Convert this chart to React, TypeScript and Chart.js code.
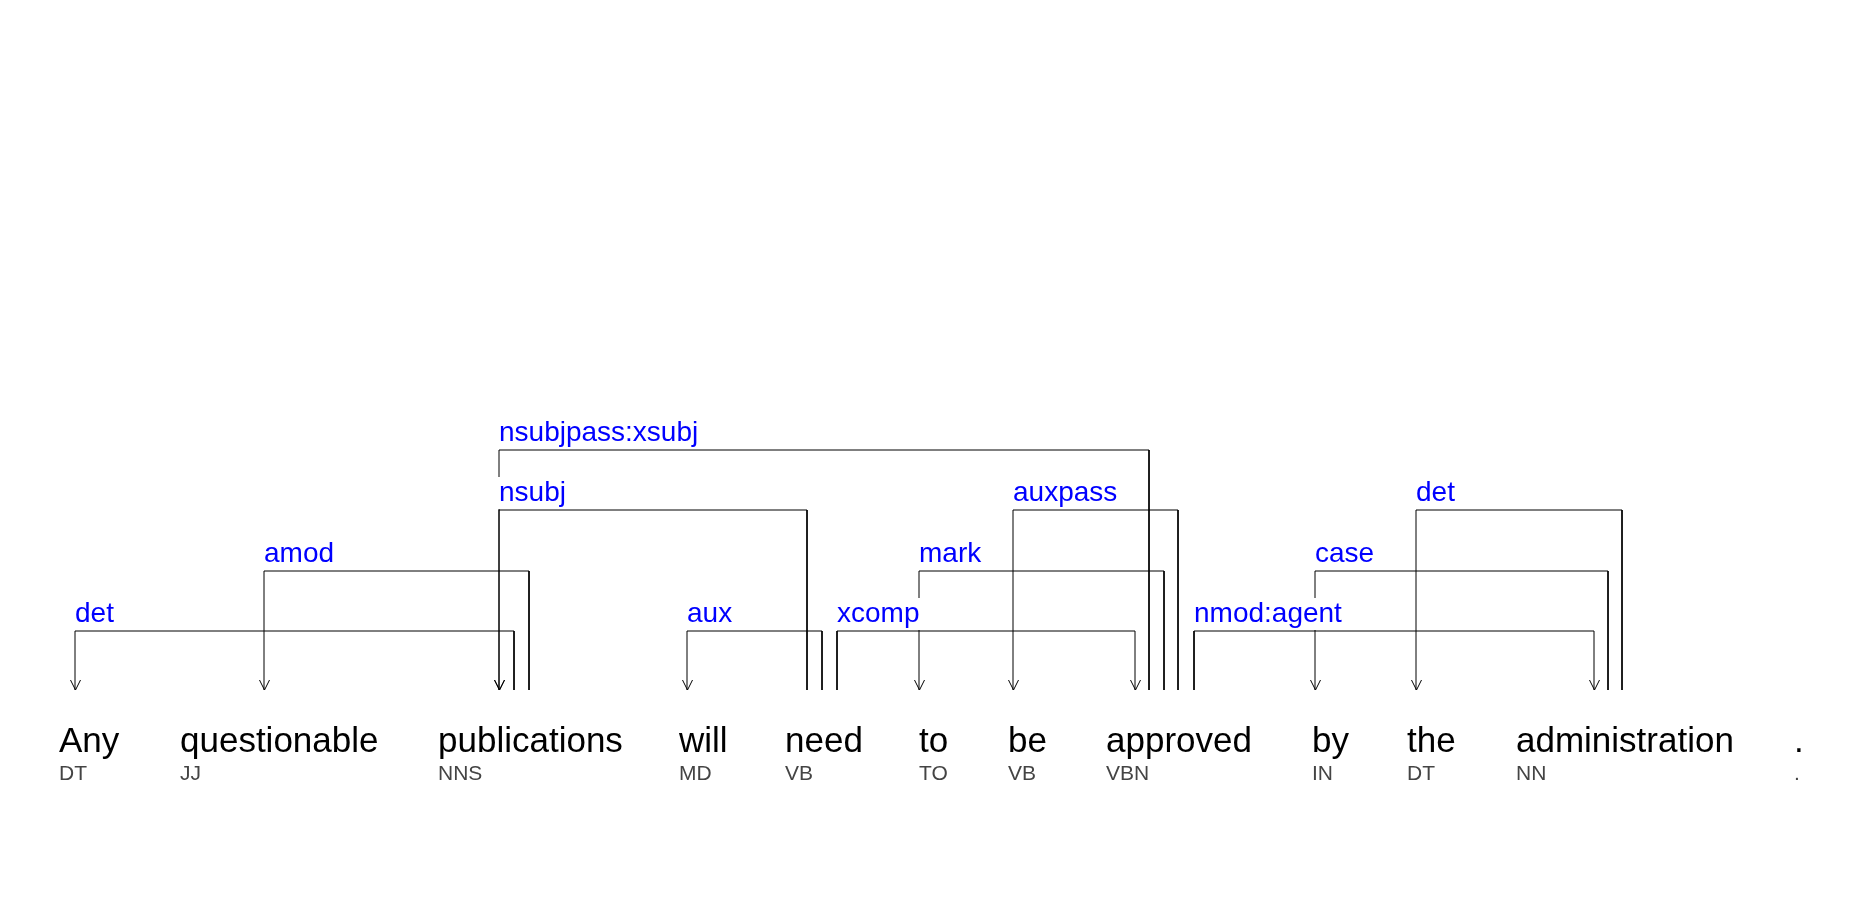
import React, { useEffect, useRef } from "react";
import { Chart, registerables } from "chart.js";
Chart.register(...registerables);

const words = ["Any", "questionable", "publications", "will", "need", "to", "be", "approved", "by", "the", "administration", "."];
const tags = ["DT", "JJ", "NNS", "MD", "VB", "TO", "VB", "VBN", "IN", "DT", "NN", "."];
const wordX = [59, 180, 438, 679, 785, 919, 1008, 1106, 1312, 1407, 1516, 1794];
// edges: label, dependent attach x, head attach x, level
const edgeLabels = ["det", "amod", "nsubj", "nsubjpass:xsubj", "aux", "xcomp", "mark", "auxpass", "nmod:agent", "case", "det"];
const edgeDepX = [75, 264, 499, 499, 687, 1135, 919, 1013, 1594, 1315, 1416];
const edgeHeadX = [514, 529, 807, 1149, 822, 837, 1164, 1178, 1194, 1608, 1622];
const edgeLevel = [1, 2, 3, 4, 1, 1, 2, 3, 1, 2, 3];
const levelY = [0, 631, 571, 510, 450];
const BOTTOM = 690;
const WORD_Y = 752;
const TAG_Y = 780;

export default function App() {
  const ref = useRef<HTMLCanvasElement>(null);
  useEffect(() => {
    document.body.style.margin = "0";
    const datasets = edgeLabels.map((l, i) => ({
      label: l,
      data: [
        { x: edgeDepX[i], y: BOTTOM },
        { x: edgeDepX[i], y: levelY[edgeLevel[i]] },
        { x: edgeHeadX[i], y: levelY[edgeLevel[i]] },
        { x: edgeHeadX[i], y: BOTTOM },
      ],
      showLine: true,
      borderColor: "#000",
      borderWidth: 1,
      pointRadius: 0,
      fill: false,
      tension: 0,
    }));
    const plugin = {
      id: "deps",
      afterDatasetsDraw(chart: any) {
        const ctx = chart.ctx;
        const xs = chart.scales.x, ys = chart.scales.y;
        ctx.save();
        // arrows
        ctx.strokeStyle = "#000";
        ctx.lineWidth = 1;
        edgeDepX.forEach((dx) => {
          const px = Math.round(xs.getPixelForValue(dx)) + 0.5;
          const py = ys.getPixelForValue(BOTTOM);
          ctx.beginPath();
          ctx.moveTo(px - 5, py - 10);
          ctx.lineTo(px, py);
          ctx.lineTo(px + 5, py - 10);
          ctx.stroke();
        });
        // labels
        ctx.font = "28px 'Liberation Sans', Arial, sans-serif";
        ctx.textBaseline = "alphabetic";
        ctx.textAlign = "left";
        edgeLabels.forEach((l, i) => {
          const left = Math.min(edgeDepX[i], edgeHeadX[i]);
          const px = xs.getPixelForValue(left);
          const py = ys.getPixelForValue(levelY[edgeLevel[i]]) - 9;
          const w = ctx.measureText(l).width;
          ctx.fillStyle = "#fff";
          ctx.fillRect(px - 1, py - 24, w + 2, 32);
          ctx.fillStyle = "#0000ff";
          ctx.fillText(l, px, py);
        });
        // words
        words.forEach((w, i) => {
          ctx.fillStyle = "#000";
          ctx.font = "35px 'Liberation Sans', Arial, sans-serif";
          ctx.fillText(w, xs.getPixelForValue(wordX[i]), ys.getPixelForValue(WORD_Y));
          ctx.fillStyle = "#444";
          ctx.font = "21px 'Liberation Sans', Arial, sans-serif";
          ctx.fillText(tags[i], xs.getPixelForValue(wordX[i]), ys.getPixelForValue(TAG_Y));
        });
        ctx.restore();
      },
    };
    const chart = new Chart(ref.current!, {
      type: "scatter",
      data: { datasets: datasets as any },
      options: {
        animation: false,
        responsive: false,
        devicePixelRatio: 1,
        layout: { padding: 0 },
        plugins: { legend: { display: false }, tooltip: { enabled: false } },
        scales: {
          x: { type: "linear", min: 0, max: 1857, display: false },
          y: { type: "linear", min: 0, max: 900, reverse: true, display: false },
        },
      },
      plugins: [plugin],
    });
    return () => chart.destroy();
  }, []);
  return (
    <div style={{ width: 1857, height: 900, background: "#fff" }}>
      <canvas ref={ref} width={1857} height={900} />
    </div>
  );
}
